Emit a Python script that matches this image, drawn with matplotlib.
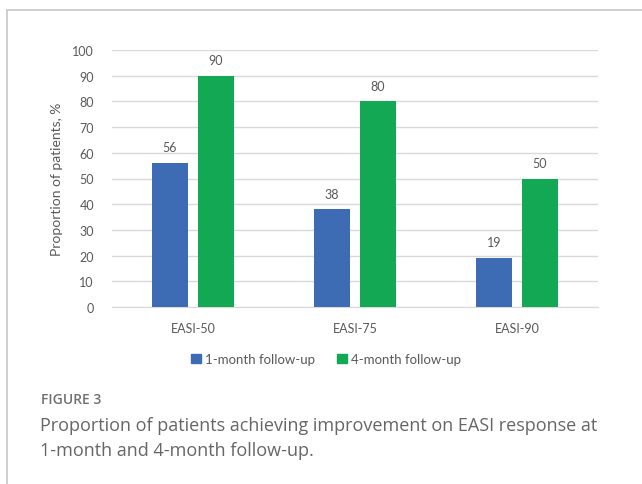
import numpy as np
import matplotlib
matplotlib.use("Agg")
import matplotlib.pyplot as plt
from matplotlib.lines import Line2D
from matplotlib.patches import Patch

categories = ["EASI-50", "EASI-75", "EASI-90"]
one_month = [56, 38, 19]
four_month = [90, 80, 50]
series_names = ["1-month follow-up", "4-month follow-up"]
yticks = list(range(0, 101, 10))

blue = "#3D6BB4"
green = "#13A853"
txt = "#595959"
W, H = 642, 485

fig = plt.figure(figsize=(6.42, 4.85), dpi=100)

# outer frame (top and left edges)
fig.add_artist(Line2D([7/W, 1], [1-11/H, 1-11/H], color="#cccccc", lw=1.3))
fig.add_artist(Line2D([7/W, 7/W], [0, 1-11/H], color="#cccccc", lw=1.3))

ax = fig.add_axes([112/W, 1-308/H, 486/W, 257/H])
x = np.arange(len(categories))
w = 0.222
gap = 0.062
b1 = ax.bar(x - (w+gap)/2, one_month, w, color=blue, zorder=3)
b2 = ax.bar(x + (w+gap)/2, four_month, w, color=green, zorder=3)
for bars in (b1, b2):
    for r in bars:
        ax.annotate(f"{r.get_height():.0f}", (r.get_x()+r.get_width()/2, r.get_height()),
                    xytext=(0, 7), textcoords="offset points", ha="center", va="bottom",
                    fontsize=9, color=txt, family="Lato")

ax.set_xlim(-0.5, 2.5)
ax.set_ylim(0, 100)
ax.set_yticks(yticks)
ax.set_xticks(x)
ax.set_xticklabels(categories)
ax.grid(axis="y", color="#d9d9d9", lw=1.0, zorder=0)
for s in ["top", "right", "left"]:
    ax.spines[s].set_visible(False)
ax.spines["bottom"].set_color("#d9d9d9")
ax.tick_params(length=0, labelsize=9, labelcolor=txt)
ax.tick_params(axis="y", pad=13)
ax.tick_params(axis="x", pad=11)
for lab in ax.get_xticklabels() + ax.get_yticklabels():
    lab.set_family("Lato")
ax.set_ylabel("Proportion of patients, %", fontsize=10, color=txt, family="Lato")
ax.yaxis.set_label_coords((63 - 112)/486, 0.5)

handles = [Patch(color=blue), Patch(color=green)]
leg = fig.legend(handles, series_names, loc="center", bbox_to_anchor=(326/W, 1-360/H), ncol=2,
                 frameon=False, prop={"family": "Lato", "size": 9.5}, handlelength=0.75,
                 handleheight=0.75, columnspacing=1.7, handletextpad=0.3, borderpad=0)
for t in leg.get_texts():
    t.set_color(txt)

fig.text(41/W, 1-400/H, "FIGURE 3", fontsize=10, color="#707070", family="Open Sans",
         weight="semibold", va="center")
fig.text(40/W, 1-426/H, "Proportion of patients achieving improvement on EASI response at",
         fontsize=13, color="#666666", family="Open Sans", va="center")
fig.text(40/W, 1-451/H, "1-month and 4-month follow-up.",
         fontsize=13, color="#666666", family="Open Sans", va="center")

fig.savefig("out.png", dpi=100)
